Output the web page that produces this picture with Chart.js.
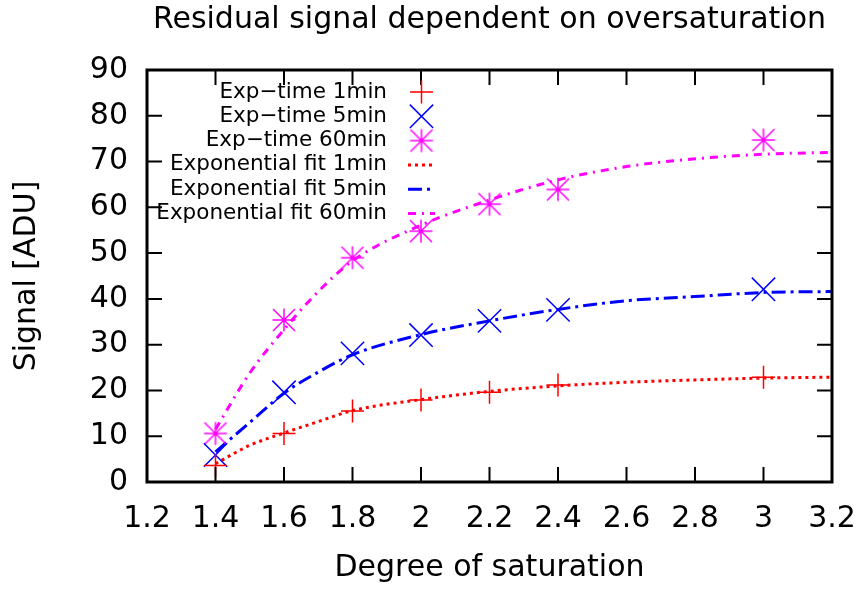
<!DOCTYPE html>
<html>
<head>
<meta charset="utf-8">
<script src="https://cdn.jsdelivr.net/npm/chart.js@4.4.1/dist/chart.umd.min.js"></script>
<style>
  html, body { margin: 0; padding: 0; background: #fff; }
  #wrap { width: 864px; height: 591px; }
</style>
</head>
<body>
<div id="wrap"><canvas id="residualChart" width="864" height="591"></canvas></div>
<script>
// Measured residual signal per exposure time
const satPoints = [1.4, 1.6, 1.8, 2.0, 2.2, 2.4, 3.0];
const signal1min = [3.6, 10.6, 15.5, 17.9, 19.6, 21.2, 22.9];
const signal5min = [5.9, 19.6, 28.1, 32.1, 35.2, 37.6, 42.1];
const signal60min = [10.6, 35.4, 49.0, 54.8, 60.7, 63.9, 74.7];

// Fit curves
const fitSat = [1.4, 1.5, 1.6, 1.7, 1.8, 2.0, 2.2, 2.4, 2.6, 2.8, 3.0, 3.2];
const fit1min = [4.0, 8.0, 10.7, 13.2, 15.6, 18.0, 19.8, 21.0, 21.8, 22.3, 22.7, 22.9];
const fit5min = [6.6, 13.0, 19.4, 24.0, 27.8, 32.2, 35.2, 37.7, 39.6, 40.5, 41.4, 41.6];
const fit60min = [11.5, 23.8, 33.3, 41.6, 48.3, 56.1, 61.6, 66.0, 68.9, 70.6, 71.6, 72.0];

// Axis ticks
const xTickValues = [1.2, 1.4, 1.6, 1.8, 2.0, 2.2, 2.4, 2.6, 2.8, 3.0, 3.2];
const yTickValues = [0, 10, 20, 30, 40, 50, 60, 70, 80, 90];

const FONT = 'DejaVu Sans';

function toXY(xs, ys) {
    return xs.map((x, i) => ({ x: x, y: ys[i] }));
}

// gnuplot style star: plus overlaid with a square x
function makeStar(color) {
    const c = document.createElement('canvas');
    c.width = 26;
    c.height = 26;
    const g = c.getContext('2d');
    g.strokeStyle = color;
    g.lineWidth = 1.5;
    g.beginPath();
    g.moveTo(13, 1.5); g.lineTo(13, 24.5);
    g.moveTo(1.5, 13); g.lineTo(24.5, 13);
    g.moveTo(2, 2); g.lineTo(24, 24);
    g.moveTo(24, 2); g.lineTo(2, 24);
    g.stroke();
    return c;
}

const starMagenta = makeStar('#ff00ff');

// Draws the border box and inward ticks on all four sides
const gnuplotFrame = {
    id: 'gnuplotFrame',
    afterDatasetsDraw(chart) {
        const { ctx, chartArea: a, scales: { x, y } } = chart;
        ctx.save();
        ctx.strokeStyle = '#000';
        ctx.lineWidth = 2;
        ctx.beginPath();
        x.ticks.forEach(t => {
            const px = x.getPixelForValue(t.value);
            ctx.moveTo(px, a.bottom); ctx.lineTo(px, a.bottom - 15);
            ctx.moveTo(px, a.top); ctx.lineTo(px, a.top + 15);
        });
        y.ticks.forEach(t => {
            const py = y.getPixelForValue(t.value);
            ctx.moveTo(a.left, py); ctx.lineTo(a.left + 15, py);
            ctx.moveTo(a.right, py); ctx.lineTo(a.right - 15, py);
        });
        ctx.stroke();
        ctx.lineWidth = 3;
        ctx.strokeRect(a.left, a.top, a.right - a.left, a.bottom - a.top);
        ctx.restore();
    }
};

// Key in the upper left, text right-aligned with samples after it
const gnuplotKey = {
    id: 'gnuplotKey',
    afterDraw(chart) {
        const { ctx, chartArea: a } = chart;
        const textRight = a.left + 240;
        const sampleL = a.left + 261;
        const sampleR = a.left + 288;
        ctx.save();
        chart.data.datasets.forEach((ds, i) => {
            const rowY = a.top + 22 + i * 24.3;
            ctx.fillStyle = '#000';
            ctx.font = '21.5px "' + FONT + '"';
            ctx.textAlign = 'right';
            ctx.textBaseline = 'middle';
            ctx.fillText(ds.label, textRight, rowY);
            if (ds.showLine) {
                ctx.strokeStyle = ds.borderColor;
                ctx.lineWidth = ds.borderWidth;
                ctx.setLineDash(ds.borderDash || []);
                ctx.beginPath();
                ctx.moveTo(sampleL, rowY);
                ctx.lineTo(sampleR, rowY);
                ctx.stroke();
                ctx.setLineDash([]);
            } else {
                ctx.strokeStyle = ds.borderColor;
                ctx.lineWidth = ds.pointBorderWidth;
                Chart.helpers.drawPoint(ctx, {
                    pointStyle: ds.pointStyle,
                    radius: ds.pointRadius,
                    borderWidth: ds.pointBorderWidth,
                    rotation: 0
                }, (sampleL + sampleR) / 2, rowY);
            }
        });
        ctx.restore();
    }
};

function pointSet(label, values, color, style, radius) {
    return {
        label: label,
        data: toXY(satPoints, values),
        showLine: false,
        borderColor: color,
        backgroundColor: color,
        pointStyle: style,
        pointRadius: radius,
        pointBorderWidth: 1.5,
        pointBorderColor: color
    };
}

function fitSet(label, values, color, dash) {
    return {
        label: label,
        data: toXY(fitSat, values),
        showLine: true,
        borderColor: color,
        borderWidth: 3,
        borderDash: dash,
        pointRadius: 0,
        cubicInterpolationMode: 'monotone',
        fill: false
    };
}

new Chart(document.getElementById('residualChart'), {
    type: 'scatter',
    data: {
        datasets: [
            pointSet('Exp\u2212time 1min', signal1min, '#ff0000', 'cross', 11.5),
            pointSet('Exp\u2212time 5min', signal5min, '#0000ff', 'crossRot', 16.5),
            pointSet('Exp\u2212time 60min', signal60min, '#ff00ff', starMagenta, 13),
            fitSet('Exponential fit 1min', fit1min, '#ff0000', [3, 4]),
            fitSet('Exponential fit 5min', fit5min, '#0000ff', [14, 5, 3, 5]),
            fitSet('Exponential fit 60min', fit60min, '#ff00ff', [8, 6, 2, 6])
        ]
    },
    options: {
        responsive: false,
        animation: false,
        devicePixelRatio: 1,
        layout: { padding: { left: 0, right: 32, top: 0, bottom: 0 } },
        plugins: {
            legend: { display: false },
            tooltip: { enabled: false },
            title: {
                display: true,
                text: 'Residual signal dependent on oversaturation',
                fullSize: false,
                color: '#000',
                font: { family: FONT, size: 30, weight: 'normal' },
                padding: { top: 2, bottom: 32 }
            }
        },
        scales: {
            x: {
                type: 'linear',
                min: 1.2,
                max: 3.2,
                afterFit(scale) {
                    scale.height = 109;
                    scale.paddingLeft = 0;
                    scale.paddingRight = 0;
                },
                afterBuildTicks(scale) { scale.ticks = xTickValues.map(v => ({ value: v })); },
                grid: { display: false, drawTicks: false },
                border: { display: false },
                ticks: {
                    color: '#000',
                    padding: 19,
                    font: { family: FONT, size: 30 },
                    callback: v => String(Number(v.toFixed(1)))
                },
                title: {
                    display: true,
                    text: 'Degree of saturation',
                    color: '#000',
                    font: { family: FONT, size: 30 },
                    padding: { top: 0, bottom: 5 }
                }
            },
            y: {
                type: 'linear',
                min: 0,
                max: 90,
                afterFit(scale) {
                    scale.width = 147;
                    scale.paddingTop = 0;
                    scale.paddingBottom = 0;
                },
                afterBuildTicks(scale) { scale.ticks = yTickValues.map(v => ({ value: v })); },
                grid: { display: false, drawTicks: false },
                border: { display: false },
                ticks: {
                    color: '#000',
                    padding: 19,
                    font: { family: FONT, size: 30 }
                },
                title: {
                    display: true,
                    text: 'Signal [ADU]',
                    color: '#000',
                    font: { family: FONT, size: 30 },
                    padding: { top: 9, bottom: 0 }
                }
            }
        }
    },
    plugins: [gnuplotFrame, gnuplotKey]
});
</script>
</body>
</html>
